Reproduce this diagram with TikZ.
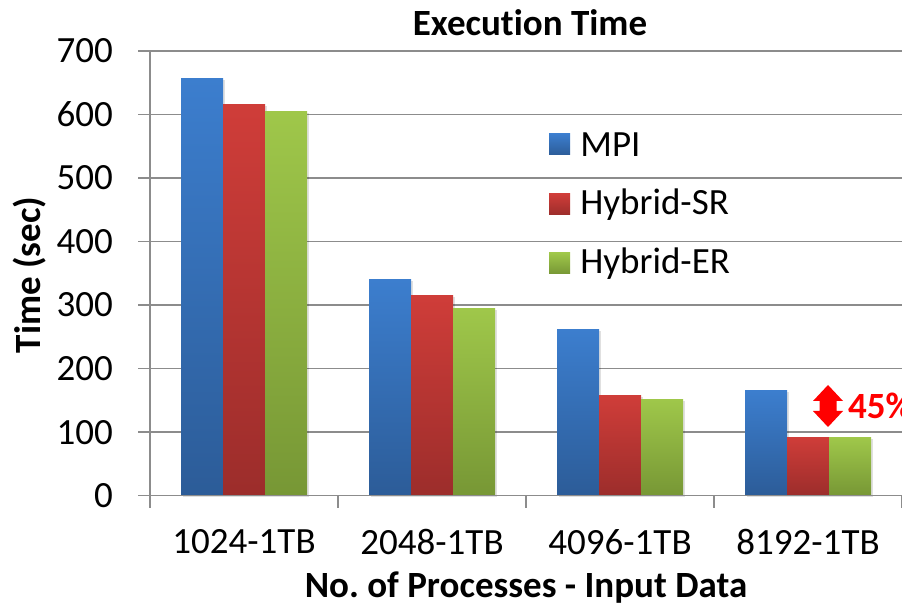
\documentclass[tikz,border=0pt]{standalone}
\usepackage{fontspec}
\setmainfont{Carlito}[Ligatures=NoCommon]
\usepackage{tikz}
\usetikzlibrary{positioning, shadows}
\definecolor{mpiblue}{RGB}{60,126,206}
\definecolor{mpiblueb}{RGB}{44,92,152}
\definecolor{srred}{RGB}{207,61,57}
\definecolor{srredb}{RGB}{156,45,43}
\definecolor{ergreen}{RGB}{159,199,74}
\definecolor{ergreenb}{RGB}{119,151,53}
\definecolor{gridgray}{RGB}{140,140,140}
\newcommand{\ys}{0.6353}
\frenchspacing

\begin{document}
\begin{tikzpicture}[
  x=1pt, y=1pt,
  every node/.style={font=\fontsize{37}{42}\selectfont, inner sep=0pt},
  grid/.style={draw=gridgray, line width=1.6pt},
  bar/.style={drop shadow={shadow xshift=2pt, shadow yshift=-1.5pt, opacity=0.12, fill=black}},
  mpibar/.style={bar, top color=mpiblue, bottom color=mpiblueb},
  srbar/.style={bar, top color=srred, bottom color=srredb},
  erbar/.style={bar, top color=ergreen, bottom color=ergreenb},
  legsq/.style={minimum size=21pt, inner sep=0pt},
  axtitle/.style={font=\fontsize{37}{42}\selectfont\bfseries}
]
\useasboundingbox (0,0) rectangle (902,615);

\begin{scope}[shift={(150,119.3)}]
  % gridlines and ticks
  \foreach \v in {1,...,7}
    \draw[grid] (0,{\v*100*\ys}) -- (752,{\v*100*\ys});
  \foreach \v in {0,100,...,700} {
    \draw[grid] (-12,{\v*\ys}) -- (0,{\v*\ys});
    \node[anchor=east] (ylab\v) at (-37,{\v*\ys}) {\v};
  }
  \foreach \i in {0,...,4}
    \draw[grid] (188*\i,0) -- (188*\i,-12);

  % bars
  \foreach \i/\a/\b/\c/\t in {0/657/615/605/1024, 1/340/315/294/2048, 2/262/157/152/4096, 3/165/92/91/8192} {
    \fill[mpibar] (188*\i+31,0) rectangle (188*\i+73,{\a*\ys});
    \fill[srbar] (188*\i+73,0) rectangle (188*\i+115,{\b*\ys});
    \fill[erbar] (188*\i+115,0) rectangle (188*\i+157,{\c*\ys});
    \node (xlab\t) at (188*\i+94,-46) {\t-1TB};
  }

  % axes
  \draw[grid] (0,0) -- (0,{700*\ys});
  \draw[grid] (-12,0) -- (752,0);
\end{scope}

% legend
\node[legsq, top color=mpiblue, bottom color=mpiblueb] (legmpi) at (559.5,470.5) {};
\node[legsq, top color=srred, bottom color=srredb] (legsr) at (559.5,410.5) {};
\node[legsq, top color=ergreen, bottom color=ergreenb] (leger) at (559.5,351.5) {};
\node[right=10pt of legmpi] (txtmpi) {MPI};
\node[right=10pt of legsr] (txtsr) {Hybrid-SR};
\node[right=10pt of leger] (txter) {Hybrid-ER};

% titles
\node[axtitle] (title) at (530,592) {Execution Time};
\node[axtitle] (xtitle) at (526,27) {No. of Processes - Input Data};
\node[axtitle, rotate=90] (ytitle) at (30,340) {Time (sec)};

% improvement marker
\coordinate (gap) at (828,209);
\fill[red, shift={(gap)}] (0,21) -- (15,5) -- (8.5,5) -- (8.5,-5) -- (15,-5) -- (0,-21)
  -- (-15,-5) -- (-8.5,-5) -- (-8.5,5) -- (-15,5) -- cycle;
\node[right=20pt of gap, axtitle, text=red] (pct) {45\%};

\end{tikzpicture}
\end{document}
